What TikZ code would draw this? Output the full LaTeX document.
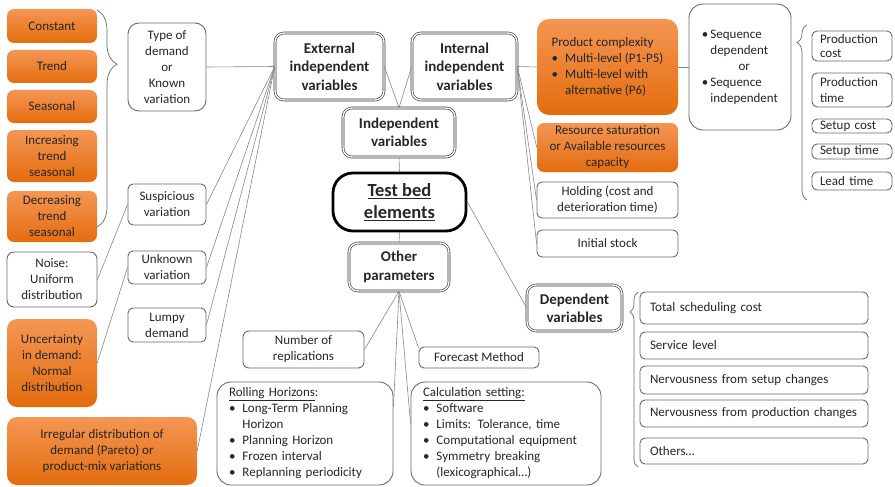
\documentclass[tikz,border=0pt]{standalone}
\usepackage{fontspec}
\setmainfont{Carlito}
\usetikzlibrary{decorations.pathreplacing}
\definecolor{orlight}{RGB}{244,150,84}
\definecolor{ordark}{RGB}{228,108,14}
\definecolor{edgegray}{RGB}{105,105,105}
\begin{document}
\begin{tikzpicture}[x=1pt,y=-1pt,
  every node/.style={font=\fontsize{13}{16}\selectfont,text=black!85,inner sep=2pt,align=center},
  obox/.style={rounded corners=7pt,top color=orlight,bottom color=ordark},
  wbox/.style={rounded corners=5pt,draw=edgegray,line width=0.9pt,fill=white},
  lbox/.style={wbox,align=left,text width=#1,inner xsep=9pt},
  dbox/.style={rounded corners=9pt,draw=black!80,double=white,double distance=1.4pt,line width=0.6pt,
    font=\fontsize{15}{18.3}\selectfont\bfseries},
  link/.style={draw=edgegray!80,line width=0.6pt},
  gbrace/.style={draw=edgegray,line width=0.7pt,decorate,decoration={brace,#1}}]
\useasboundingbox (0,0) rectangle (895,487);
\node (const) at (52,26) [obox,minimum width=90,minimum height=34] {Constant};
\node (trend) at (52,66.5) [obox,minimum width=90,minimum height=33] {Trend};
\node (seas) at (52,106.5) [obox,minimum width=90,minimum height=33] {Seasonal};
\node (incr) at (52,156) [obox,minimum width=90,minimum height=52] {Increasing\\trend\\seasonal};
\node (decr) at (52,216.5) [obox,minimum width=90,minimum height=51] {Decreasing\\trend\\seasonal};
\node (noise) at (52,279.5) [wbox,rounded corners=7pt,minimum width=90,minimum height=55] {Noise:\\Uniform\\distribution};
\node (uncert) at (52,363) [obox,rounded corners=10pt,minimum width=90,minimum height=88] {Uncertainty\\in demand:\\Normal\\distribution};
\node (irreg) at (102,451) [obox,rounded corners=10pt,minimum width=190,minimum height=68] {Irregular distribution of\\demand (Pareto) or\\product-mix variations};
\node (typedem) at (167,67) [wbox,rounded corners=11pt,minimum width=78,minimum height=88] {Type of\\demand\\or\\Known\\variation};
\node (suspic) at (167,204.5) [wbox,minimum width=78,minimum height=41] {Suspicious\\variation};
\node (unknown) at (167,267.5) [wbox,minimum width=78,minimum height=33] {Unknown\\variation};
\node (lumpy) at (167,325) [wbox,minimum width=78,minimum height=34] {Lumpy\\demand};
\node (extvar) at (329.5,66.5) [dbox,minimum width=109,minimum height=67] {External\\independent\\variables};
\node (intvar) at (464.5,66.5) [dbox,minimum width=105,minimum height=67] {Internal\\independent\\variables};
\node (indep) at (399,132.5) [dbox,minimum width=112,minimum height=49] {Independent\\variables};
\node (testbed) at (399.5,202) [draw=black,line width=2.8pt,rounded corners=20pt,minimum width=133,minimum height=58,
  font=\fontsize{18.5}{21.7}\selectfont\bfseries] {\underline{Test bed}\\\underline{elements}};
\node (other) at (399,267) [dbox,minimum width=100,minimum height=48] {Other\\parameters};
\node (depvar) at (574.5,308) [dbox,minimum width=95,minimum height=46] {Dependent\\variables};
\node (nrepl) at (303.5,349.5) [wbox,rounded corners=6pt,minimum width=121,minimum height=37] {Number of\\replications};
\node (forecast) at (479,357.5) [wbox,minimum width=120,minimum height=21,inner ysep=0pt] {Forecast Method};
\node (rolling) at (305,433.5) [wbox,rounded corners=14pt,minimum height=103,align=left,text width=152,inner xsep=12pt] {%
  \begin{tabular}{@{}l@{\hspace{7pt}}l@{}}
  \multicolumn{2}{@{}l@{}}{\underline{Rolling Horizons}:}\\
  \textbullet & Long-Term Planning\\
   & Horizon\\
  \textbullet & Planning Horizon\\
  \textbullet & Frozen interval\\
  \textbullet & Replanning periodicity
  \end{tabular}};
\node (calcset) at (506,433.5) [wbox,rounded corners=14pt,minimum height=103,align=left,text width=166,inner xsep=12pt] {%
  \begin{tabular}{@{}l@{\hspace{7pt}}l@{}}
  \multicolumn{2}{@{}l@{}}{\underline{Calculation setting:}}\\
  \textbullet & Software\\
  \textbullet & Limits: Tolerance, time\\
  \textbullet & Computational equipment\\
  \textbullet & Symmetry breaking\\
   & (lexicographical…)
  \end{tabular}};
\node (prodcomp) at (607.5,67) [obox,rounded corners=12pt,minimum width=141,minimum height=96] {%
  \begin{tabular}{@{}l@{\hspace{7pt}}l@{}}
  \multicolumn{2}{@{}l@{}}{Product complexity}\\
  \textbullet & Multi-level (P1-P5)\\
  \textbullet & Multi-level with\\
   & alternative (P6)
  \end{tabular}};
\node (ressat) at (607.5,147.5) [obox,minimum width=141,minimum height=49] {Resource saturation\\or Available resources\\capacity};
\node (holding) at (607.5,200) [wbox,minimum width=141,minimum height=36] {Holding (cost and\\deterioration time)};
\node (initst) at (607.5,243.5) [wbox,minimum width=141,minimum height=27] {Initial stock};
\node (seqdep) at (740,67) [wbox,rounded corners=14pt,minimum width=102,minimum height=126] {%
  \begin{tabular}{@{}l@{\hspace{2pt}}l@{}}
  \textbullet & Sequence\\
   & dependent\\
   & \multicolumn{1}{@{}c@{}}{or}\\
  \textbullet & Sequence\\
   & independent
  \end{tabular}};
\node (pcost) at (852,46) [lbox=64,inner xsep=8pt,minimum height=30,inner ysep=0pt] {Production\\[-2pt]cost};
\node (ptime) at (852,90) [lbox=64,inner xsep=8pt,minimum height=34,inner ysep=0pt] {Production\\time};
\node (scost) at (852,126) [lbox=64,inner xsep=8pt,minimum height=14,inner ysep=0pt] {Setup cost};
\node (stime) at (852,151.5) [lbox=64,inner xsep=8pt,minimum height=15,inner ysep=0pt] {Setup time};
\node (ltime) at (852,181) [lbox=64,inner xsep=8pt,minimum height=18,inner ysep=0pt] {Lead time};
\node (totcost) at (754,308) [lbox=208,inner xsep=10pt,minimum height=32] {Total scheduling cost};
\node (servlev) at (754,345.5) [lbox=208,inner xsep=10pt,minimum height=27] {Service level};
\node (nervset) at (754,380) [lbox=208,inner xsep=10pt,minimum height=28] {Nervousness from setup changes};
\node (nervprod) at (754,413.5) [lbox=208,inner xsep=10pt,minimum height=27] {Nervousness from production changes};
\node (others) at (754,451) [lbox=208,inner xsep=10pt,minimum height=26] {Others…};
\draw[link] (extvar.west) -- (typedem.east);
\draw[link] (extvar.west) -- (suspic.east);
\draw[link] (extvar.west) -- (unknown.east);
\draw[link] (extvar.west) -- (lumpy.east);
\draw[link] (extvar.west) -- (irreg.east);
\draw[link] (suspic.west) -- (noise.east);
\draw[link] (unknown.west) -- (uncert.east);
\draw[link] (extvar.east) -- (indep.north);
\draw[link] (intvar.west) -- (indep.north);
\draw[link] (indep.south) -- (testbed.north);
\draw[link] (testbed.south) -- (other.north);
\draw[link] (testbed.east) -- (depvar.west);
\draw[link] (intvar.east) -- (prodcomp.west);
\draw[link] (intvar.east) -- (ressat.west);
\draw[link] (intvar.east) -- (holding.west);
\draw[link] (intvar.east) -- (initst.west);
\draw[link] (prodcomp.east) -- (seqdep.west);
\draw[link] (other.south) -- (nrepl.east);
\draw[link] (other.south) -- (rolling.17);
\draw[link] (other.south) -- (calcset.174);
\draw[link] (other.south) -- (forecast.171);
\draw[gbrace={aspect=0.25,amplitude=20pt}] (97,10) -- (97,227);
\draw[gbrace={aspect=0.1,amplitude=10pt,mirror}] (807,25) -- (807,200);
\draw[gbrace={aspect=0.114,amplitude=8pt,mirror}] (638,292) -- (638,467);
\end{tikzpicture}
\end{document}
